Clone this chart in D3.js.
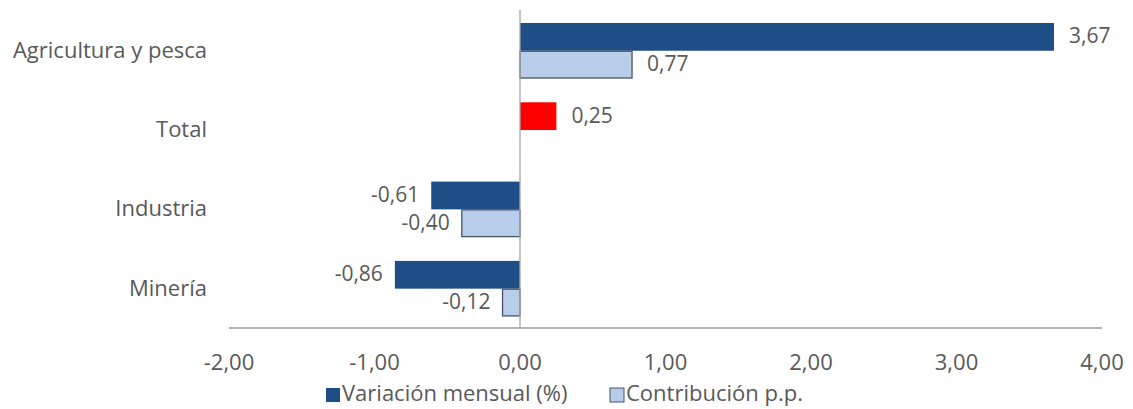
<!DOCTYPE html>
<meta charset="utf-8">
<html>
<head>
  <script src="https://d3js.org/d3.v7.min.js" charset="utf-8"></script>
</head>
<style>
body { margin: 0; background: white; }
text { font-family: "Open Sans", "Noto Sans", sans-serif; fill: #595959; }
</style>
<body>
<div id="container"></div>
<script>

var categories = ["Agricultura y pesca", "Total", "Industria", "Minería"]
var series = ["Variación mensual (%)", "Contribución p.p."]
var variacion = [3.67, 0.25, -0.61, -0.86]
var contribucion = [0.77, null, -0.40, -0.12]
var ticks = [-2, -1, 0, 1, 2, 3, 4]

var width = 1133
var height = 409
var margin = {left: 229, right: 31, top: 11.4, bottom: 81}

var colors = {dark: "#1f4e86", light: "#b8cde9", lightStroke: "#44546a", total: "#fe0000"}

var fmt = (v) => d3.format(".2f")(v).replace(".", ",").replace("−", "-")

var svg = d3.select("#container").append("svg")
            .attr("width", width)
            .attr("height", height)

var x = d3.scaleLinear().domain([-2, 4]).range([margin.left, width - margin.right])
var y = d3.scaleBand().domain(categories)
          .range([margin.top, height - margin.bottom])
          .paddingInner(0.3).paddingOuter(0.146)
var ySub = d3.scaleBand().domain(series).range([0, y.bandwidth()])

var rows = categories.map((c, i) => ({cat: c, values: [
  {s: series[0], v: variacion[i]},
  {s: series[1], v: contribucion[i]}
]}))

// axis line along the bottom
svg.append("line")
   .attr("x1", x(-2)).attr("x2", x(4))
   .attr("y1", height - margin.bottom).attr("y2", height - margin.bottom)
   .attr("stroke", "#b3b3b3").attr("stroke-width", 2)

var g = svg.selectAll(".row").data(rows).enter().append("g")
           .attr("transform", (d) => "translate(0," + y(d.cat) + ")")

g.selectAll("rect")
 .data((d) => d.values.filter((e) => e.v !== null).map((e) => ({...e, cat: d.cat})))
 .enter().append("rect")
 .attr("x", (d) => x(Math.min(0, d.v)))
 .attr("y", (d) => ySub(d.s) + (d.s === series[1] ? 0.5 : 0))
 .attr("width", (d) => Math.abs(x(d.v) - x(0)))
 .attr("height", (d) => ySub.bandwidth() - (d.s === series[1] ? 1 : 0))
 .attr("fill", (d) => d.cat === "Total" ? colors.total : (d.s === series[0] ? colors.dark : colors.light))
 .attr("stroke", (d) => d.s === series[1] ? colors.lightStroke : "none")
 .attr("stroke-width", 1.3)

g.selectAll(".val")
 .data((d) => d.values.filter((e) => e.v !== null))
 .enter().append("text")
 .attr("class", "val")
 .attr("x", (d) => d.v >= 0 ? x(d.v) + 15 : x(d.v) - 12)
 .attr("y", (d) => ySub(d.s) + ySub.bandwidth() / 2 + 1)
 .attr("text-anchor", (d) => d.v >= 0 ? "start" : "end")
 .attr("dominant-baseline", "middle")
 .attr("font-size", "21px")
 .text((d) => fmt(d.v))

// zero line
svg.append("line")
   .attr("x1", x(0)).attr("x2", x(0))
   .attr("y1", 10).attr("y2", height - margin.bottom)
   .attr("stroke", "#a6a6a6").attr("stroke-width", 1.3)

// category labels
svg.selectAll(".cat").data(categories).enter().append("text")
   .attr("class", "cat")
   .attr("x", 207)
   .attr("y", (d) => y(d) + y.bandwidth() / 2 + 1)
   .attr("text-anchor", "end")
   .attr("dominant-baseline", "middle")
   .attr("font-size", "22px")
   .text((d) => d)

// tick labels
svg.selectAll(".tick").data(ticks).enter().append("text")
   .attr("class", "tick")
   .attr("x", (d) => x(d))
   .attr("y", 364)
   .attr("text-anchor", "middle")
   .attr("dominant-baseline", "middle")
   .attr("font-size", "22px")
   .text((d) => fmt(d))

// legend
var legend = svg.append("g").attr("transform", "translate(326, 395)")
var legendX = [0, 284]
series.forEach(function(s, i) {
  legend.append("rect")
        .attr("x", legendX[i]).attr("y", -7)
        .attr("width", 14).attr("height", 14)
        .attr("fill", i === 0 ? colors.dark : colors.light)
        .attr("stroke", i === 0 ? "none" : colors.lightStroke)
  legend.append("text")
        .attr("x", legendX[i] + 16).attr("y", 0)
        .attr("dominant-baseline", "middle")
        .attr("font-size", "22px")
        .text(s)
})

</script>
</body>
</html>
